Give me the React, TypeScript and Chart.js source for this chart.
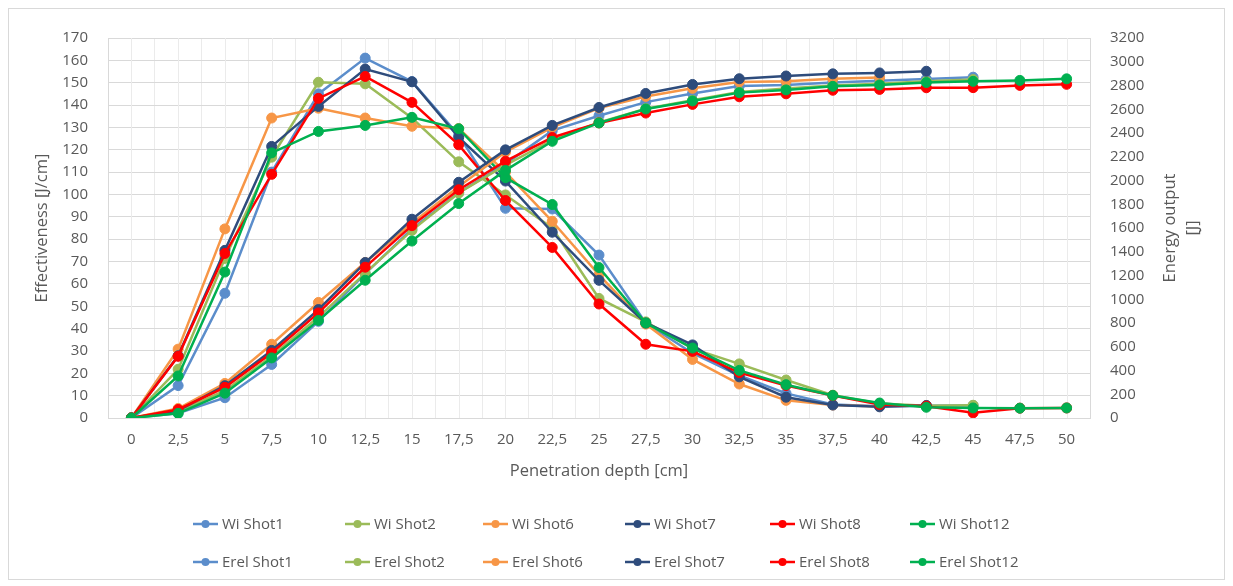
import React, { useEffect, useRef } from 'react';
import { Chart, registerables } from 'chart.js';

Chart.register(...registerables);

// Penetration depth categories [cm]
const depthLabels = [
  '0', '2,5', '5', '7,5', '10', '12,5', '15', '17,5', '20', '22,5', '25',
  '27,5', '30', '32,5', '35', '37,5', '40', '42,5', '45', '47,5', '50',
];

// Effectiveness Wi [J/cm]
const wiShot1 = [0, 14.5, 55.8, 110, 145, 161, 150.5, 126.5, 93.8, 93.5, 72.9, 42.5, 29, 19, 11, 6, 5.3, 5.5, 5.6];
const wiShot2 = [0, 21.8, 71.4, 116.7, 150.2, 149.5, 134.2, 114.6, 99.8, 85, 53.5, 43, 31, 24.2, 17, 10.2, 6.5, 5.5, 5.7];
const wiShot6 = [0, 30.8, 84.6, 134.2, 138.6, 134.2, 130.5, 129.5, 110, 88, 64, 42, 26.2, 15.2, 7.9, 5.8, 5.2];
const wiShot7 = [0, 27.8, 75, 121.5, 139.4, 156.1, 150.4, 125.5, 106, 83.1, 61.6, 42.5, 32.7, 18.4, 9.3, 5.8, 5, 5.6];
const wiShot8 = [0, 27.6, 73.6, 109, 143, 152.8, 141.2, 122.2, 97.3, 76.3, 51, 33, 29.8, 20.3, 14.5, 10, 6, 5.3, 2.3, 4.4, 4.5];
const wiShot12 = [0, 18.8, 65.3, 118.6, 128.2, 130.9, 134.5, 129.4, 107.5, 95.5, 67.3, 42.5, 31.3, 21.3, 14.9, 10.1, 6.7, 4.8, 4.5, 4.4, 4.5];

// Cumulative energy output Erel [J]
const erelShot1 = [0, 40, 171, 451, 814, 1215, 1592, 1897, 2140, 2420, 2545, 2660, 2733, 2795, 2805, 2825, 2840, 2855, 2870];
const erelShot2 = [0, 55, 230, 520, 850, 1220, 1580, 1895, 2130, 2340, 2490, 2605, 2675, 2745, 2775, 2800, 2815, 2835, 2850];
const erelShot6 = [0, 80, 291, 621, 973, 1309, 1640, 1950, 2240, 2448, 2610, 2708, 2776, 2830, 2836, 2857, 2868];
const erelShot7 = [0, 62, 272, 569, 913, 1309, 1674, 1985, 2258, 2464, 2615, 2733, 2809, 2857, 2880, 2898, 2906, 2920];
const erelShot8 = [0, 72, 258, 547, 885, 1270, 1620, 1922, 2163, 2362, 2485, 2568, 2641, 2705, 2730, 2760, 2767, 2781, 2782, 2801, 2810];
const erelShot12 = [0, 39, 209, 506, 822, 1160, 1490, 1806, 2085, 2330, 2485, 2602, 2670, 2740, 2763, 2793, 2805, 2825, 2835, 2843, 2856];

const shotNames = ['Shot1', 'Shot2', 'Shot6', 'Shot7', 'Shot8', 'Shot12'];
const shotColors = ['#5B8DCB', '#9BBB59', '#F79646', '#2E4C7C', '#FF0000', '#00B050'];
const wiSeries = [wiShot1, wiShot2, wiShot6, wiShot7, wiShot8, wiShot12];
const erelSeries = [erelShot1, erelShot2, erelShot6, erelShot7, erelShot8, erelShot12];

const FONT = '"Open Sans"';
const TEXT_COLOR = '#595959';
const GRID_COLOR = '#d9d9d9';
const MINOR_GRID_COLOR = '#ebebeb';
const TICK_SIZE = 15;
const TITLE_SIZE = 16.5;

const CANVAS_W = 1215;
const CANVAS_H = 570;

// extra vertical gridlines through each category centre
const centerGridPlugin = {
  id: 'centerGrid',
  beforeDatasetsDraw(chart: any) {
    const { ctx, chartArea, scales } = chart;
    const x = scales.x;
    ctx.save();
    ctx.strokeStyle = MINOR_GRID_COLOR;
    ctx.lineWidth = 1;
    for (let i = 0; i < depthLabels.length; i++) {
      const px = Math.round(x.getPixelForValue(i)) + 0.5;
      ctx.beginPath();
      ctx.moveTo(px, chartArea.top);
      ctx.lineTo(px, chartArea.bottom);
      ctx.stroke();
    }
    ctx.restore();
  },
};

// right axis title, two lines reading bottom-to-top
const rightTitlePlugin = {
  id: 'rightTitle',
  afterDraw(chart: any) {
    const { ctx, chartArea } = chart;
    const cy = (chartArea.top + chartArea.bottom) / 2;
    const lines = ['Energy output', '[J]'];
    const xs = [chartArea.right + 80, chartArea.right + 103];
    ctx.save();
    ctx.fillStyle = TEXT_COLOR;
    ctx.font = `${TITLE_SIZE}px ${FONT}`;
    ctx.textAlign = 'center';
    ctx.textBaseline = 'middle';
    lines.forEach((t, i) => {
      ctx.save();
      ctx.translate(xs[i], cy);
      ctx.rotate(-Math.PI / 2);
      ctx.fillText(t, 0, 0);
      ctx.restore();
    });
    ctx.restore();
  },
};

// two-row legend laid out in fixed columns
const gridLegendPlugin = {
  id: 'gridLegend',
  afterDraw(chart: any) {
    const { ctx } = chart;
    const cols = [184, 336, 474, 616, 761, 901];
    const rows = [515, 553];
    ctx.save();
    ctx.font = `${TICK_SIZE}px ${FONT}`;
    ctx.textBaseline = 'middle';
    ctx.textAlign = 'left';
    chart.data.datasets.forEach((ds: any, i: number) => {
      const r = Math.floor(i / 6);
      const c = i % 6;
      const x = cols[c];
      const y = rows[r];
      ctx.strokeStyle = ds.borderColor;
      ctx.lineWidth = 2.5;
      ctx.beginPath();
      ctx.moveTo(x, y);
      ctx.lineTo(x + 25, y);
      ctx.stroke();
      ctx.fillStyle = ds.borderColor;
      ctx.beginPath();
      ctx.arc(x + 12.5, y, 4, 0, Math.PI * 2);
      ctx.fill();
      ctx.fillStyle = TEXT_COLOR;
      ctx.fillText(ds.label, x + 29, y + 1);
    });
    ctx.restore();
  },
};

export default function App() {
  const canvasRef = useRef<HTMLCanvasElement | null>(null);

  useEffect(() => {
    if (!canvasRef.current) return;
    const total = 12;
    const datasets: any[] = [];
    const addSeries = (label: string, data: number[], axis: string, color: string) => {
      datasets.push({
        label,
        data,
        yAxisID: axis,
        borderColor: color,
        backgroundColor: color,
        pointBackgroundColor: color,
        pointBorderColor: color,
        borderWidth: 2.5,
        pointRadius: 5,
        pointBorderWidth: 1,
        tension: 0,
        // later series are drawn above earlier ones
        order: total - datasets.length,
      });
    };
    wiSeries.forEach((data, i) => addSeries(`Wi ${shotNames[i]}`, data, 'y', shotColors[i]));
    erelSeries.forEach((data, i) => addSeries(`Erel ${shotNames[i]}`, data, 'y1', shotColors[i]));

    const tickFont = { family: FONT, size: TICK_SIZE };
    const titleFont = { family: FONT, size: TITLE_SIZE };

    const chart = new Chart(canvasRef.current, {
      type: 'line',
      data: { labels: depthLabels, datasets },
      options: {
        animation: false,
        responsive: false,
        devicePixelRatio: 1,
        layout: { padding: { top: 21, left: 0, right: 0, bottom: 0 } },
        plugins: {
          legend: { display: false },
          tooltip: { enabled: false },
        },
        scales: {
          x: {
            type: 'category',
            offset: true,
            grid: { color: MINOR_GRID_COLOR, offset: true, drawTicks: false },
            border: { color: GRID_COLOR },
            ticks: { color: TEXT_COLOR, font: tickFont, padding: 13, maxRotation: 0, autoSkip: false },
            title: {
              display: true,
              text: 'Penetration depth [cm]',
              color: TEXT_COLOR,
              font: titleFont,
              padding: { top: 0, bottom: 98 },
            },
            afterFit(scale: any) {
              scale.height = CANVAS_H - 409;
            },
          },
          y: {
            position: 'left',
            min: 0,
            max: 170,
            grid: { color: GRID_COLOR, drawTicks: false },
            border: { color: GRID_COLOR },
            ticks: { stepSize: 10, color: TEXT_COLOR, font: tickFont, padding: 20 },
            title: {
              display: true,
              text: 'Effectiveness [J/cm]',
              color: TEXT_COLOR,
              font: titleFont,
              padding: { top: 23, bottom: 0 },
            },
            afterFit(scale: any) {
              scale.width = 99;
            },
          },
          y1: {
            position: 'right',
            min: 0,
            max: 3200,
            grid: { drawOnChartArea: false, drawTicks: false },
            border: { color: GRID_COLOR },
            ticks: {
              stepSize: 200,
              color: TEXT_COLOR,
              font: tickFont,
              padding: 20,
              callback: (v: any) => String(v),
            },
            afterFit(scale: any) {
              scale.width = CANVAS_W - 1081;
            },
          },
        },
      } as any,
      plugins: [centerGridPlugin, rightTitlePlugin, gridLegendPlugin],
    });

    return () => chart.destroy();
  }, []);

  return (
    <div
      style={{
        width: CANVAS_W + 2,
        height: CANVAS_H + 2,
        border: `1px solid ${GRID_COLOR}`,
        boxSizing: 'border-box',
        background: '#fff',
      }}
    >
      <canvas
        ref={canvasRef}
        width={CANVAS_W}
        height={CANVAS_H}
        style={{ display: 'block', width: CANVAS_W, height: CANVAS_H }}
      />
    </div>
  );
}
